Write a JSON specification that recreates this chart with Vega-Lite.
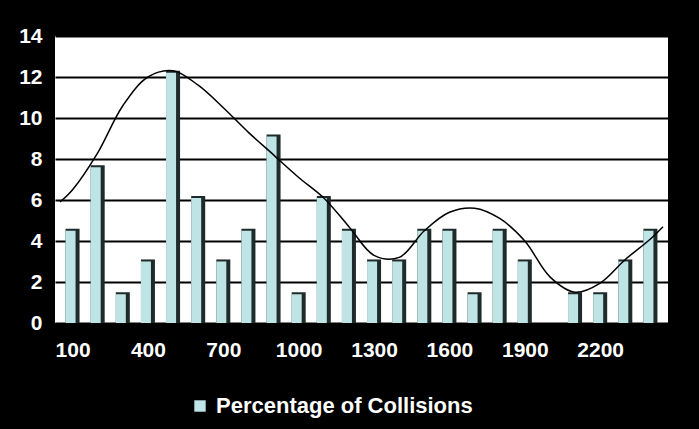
{
  "$schema": "https://vega.github.io/schema/vega-lite/v6.json",
  "width": 613,
  "height": 287,
  "autosize": {"type": "none"},
  "padding": {"left": 55, "top": 36, "right": 31, "bottom": 106},
  "background": "#000000",
  "config": {
    "view": {"fill": "#ffffff", "stroke": null},
    "font": "Liberation Sans",
    "legend": {
      "orient": "none",
      "legendX": 134,
      "legendY": 359,
      "title": null,
      "padding": 0,
      "labelFontSize": 22,
      "labelFontWeight": "bold",
      "labelColor": "#ffffff",
      "labelFont": "Liberation Sans",
      "labelLimit": 0,
      "symbolType": "square",
      "symbolSize": 130,
      "symbolStrokeWidth": 0,
      "symbolOpacity": 1,
      "labelOffset": 5
    }
  },
  "datasets": {
    "bars": [
      {"distance": 100, "pct": 4.6},
      {"distance": 200, "pct": 7.7},
      {"distance": 300, "pct": 1.5},
      {"distance": 400, "pct": 3.1},
      {"distance": 500, "pct": 12.3},
      {"distance": 600, "pct": 6.2},
      {"distance": 700, "pct": 3.1},
      {"distance": 800, "pct": 4.6},
      {"distance": 900, "pct": 9.2},
      {"distance": 1000, "pct": 1.5},
      {"distance": 1100, "pct": 6.2},
      {"distance": 1200, "pct": 4.6},
      {"distance": 1300, "pct": 3.1},
      {"distance": 1400, "pct": 3.1},
      {"distance": 1500, "pct": 4.6},
      {"distance": 1600, "pct": 4.6},
      {"distance": 1700, "pct": 1.5},
      {"distance": 1800, "pct": 4.6},
      {"distance": 1900, "pct": 3.1},
      {"distance": 2100, "pct": 1.5},
      {"distance": 2200, "pct": 1.5},
      {"distance": 2300, "pct": 3.1},
      {"distance": 2400, "pct": 4.6}
    ],
    "curve": [
      {"distance": 50, "trend": 5.9},
      {"distance": 100, "trend": 6.5},
      {"distance": 200, "trend": 8.3},
      {"distance": 300, "trend": 10.6},
      {"distance": 400, "trend": 12.0},
      {"distance": 500, "trend": 12.3},
      {"distance": 600, "trend": 11.6},
      {"distance": 700, "trend": 10.5},
      {"distance": 800, "trend": 9.3},
      {"distance": 900, "trend": 8.2},
      {"distance": 1000, "trend": 7.1},
      {"distance": 1100, "trend": 6.1},
      {"distance": 1200, "trend": 4.7},
      {"distance": 1300, "trend": 3.3},
      {"distance": 1400, "trend": 3.2},
      {"distance": 1500, "trend": 4.5},
      {"distance": 1600, "trend": 5.4},
      {"distance": 1700, "trend": 5.6},
      {"distance": 1800, "trend": 5.1},
      {"distance": 1900, "trend": 4.0},
      {"distance": 2000, "trend": 2.25},
      {"distance": 2100, "trend": 1.5},
      {"distance": 2200, "trend": 1.95},
      {"distance": 2300, "trend": 3.1},
      {"distance": 2400, "trend": 4.1},
      {"distance": 2450, "trend": 4.7}
    ]
  },
  "encoding": {
    "x": {
      "field": "distance",
      "type": "quantitative",
      "scale": {"domain": [50, 2450], "nice": false, "zero": false},
      "axis": {
        "title": null,
        "values": [100, 400, 700, 1000, 1300, 1600, 1900, 2200],
        "grid": false,
        "domain": false,
        "ticks": false,
        "labelPadding": 16,
        "labelFontSize": 21,
        "labelFontWeight": "bold",
        "labelColor": "#ffffff",
        "labelFont": "Liberation Sans",
        "labelFlush": false,
        "format": "d"
      }
    }
  },
  "layer": [
    {
      "data": {"name": "bars"},
      "mark": {"type": "bar", "width": 14, "color": "#1f2b2b", "clip": true},
      "encoding": {
        "y": {
          "field": "pct",
          "type": "quantitative",
          "scale": {"domain": [0, 14], "nice": false},
          "axis": {
            "title": null,
            "values": [0, 2, 4, 6, 8, 10, 12, 14],
            "grid": true,
            "gridColor": "#000000",
            "gridWidth": 2,
            "gridOpacity": 1,
            "domain": false,
            "ticks": false,
            "labelPadding": 13,
            "labelFontSize": 21,
            "labelFontWeight": "bold",
            "labelColor": "#ffffff",
            "labelFont": "Liberation Sans"
          }
        }
      }
    },
    {
      "data": {"name": "bars"},
      "mark": {"type": "bar", "width": 10, "xOffset": -2, "yOffset": 2, "clip": true},
      "encoding": {
        "y": {"field": "pct", "type": "quantitative"},
        "color": {
          "datum": "Percentage of Collisions",
          "scale": {"range": ["#bfe4e6"]}
        }
      }
    },
    {
      "data": {"name": "curve"},
      "mark": {"type": "line", "interpolate": "catmull-rom", "color": "#000000", "strokeWidth": 1.5, "clip": true},
      "encoding": {
        "y": {"field": "trend", "type": "quantitative"}
      }
    }
  ]
}
